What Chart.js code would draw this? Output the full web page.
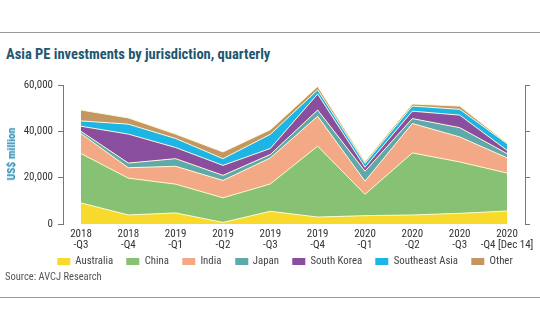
<!DOCTYPE html>
<html>
<head>
<meta charset="utf-8">
<script src="https://cdn.jsdelivr.net/npm/chart.js@4.4.1/dist/chart.umd.min.js"></script>
<style>
  html, body { margin: 0; padding: 0; background: #fff; }
  #wrap { position: relative; width: 540px; height: 334px; overflow: hidden;
          font-family: 'Liberation Sans Narrow', 'Roboto Condensed', 'DejaVu Sans Condensed', sans-serif; }
  #grafico { position: absolute; left: 0; top: 0; }
  .regla { position: absolute; left: 0; width: 540px; height: 1px; background: #9a9a9a; }
  #titulo { position: absolute; left: 6px; top: 46px; font-size: 14.5px; font-weight: bold; color: #1f5770; white-space: nowrap; }
  #fuente { position: absolute; left: 5px; top: 270px; font-size: 10.5px; color: #555; white-space: nowrap; }
  #tituloY { position: absolute; left: 11px; top: 154px; transform: translate(-50%, -50%) rotate(-90deg);
             font-size: 11.5px; font-weight: bold; color: #2a8db5; white-space: nowrap; }
  #leyenda { position: absolute; left: 285px; top: 254px; transform: translateX(-50%);
             display: flex; gap: 13.5px; font-size: 10.8px; color: #444; white-space: nowrap; line-height: 14px; }
  #leyenda .item { display: flex; align-items: center; gap: 5px; }
  #leyenda .caja { width: 13px; height: 7px; }
</style>
</head>
<body>
<div id="wrap">
  <div class="regla" style="top:32px"></div>
  <div id="titulo">Asia PE investments by jurisdiction, quarterly</div>
  <canvas id="grafico" width="540" height="334"></canvas>
  <div id="tituloY">US$ million</div>
  <div id="leyenda"></div>
  <div id="fuente">Source: AVCJ Research</div>
  <div class="regla" style="top:297px"></div>
</div>
<script>
// Trimestres (eje x)
const trimestres = [
    ['2018', '-Q3'], ['2018', '-Q4'], ['2019', '-Q1'], ['2019', '-Q2'], ['2019', '-Q3'],
    ['2019', '-Q4'], ['2020', '-Q1'], ['2020', '-Q2'], ['2020', '-Q3'], ['2020', '-Q4 [Dec 14]']
];

// Inversiones por jurisdicción (US$ millones)
const australia     = [9100, 3900, 4800,  700, 5500,  3000, 3600,  3900,  4600,  5600];
const china         = [21300, 15900, 12400, 10600, 11800, 30600, 9200, 26800, 22200, 16400];
const india         = [8600, 4500, 7700, 7500, 11200, 12900, 5700, 12700, 10800, 6600];
const japon         = [1000, 2000, 3300, 2200, 1500,  2700, 4300,  2100,  4000,  1800];
const coreaDelSur   = [2200, 12500, 4800, 4300, 2600,  6900, 1700,  3200,  5400,  1400];
const sudesteAsia   = [2300, 4300, 3900, 2900, 6100,  1800, 1700,  2200,  2500,  2900];
const otros         = [4700, 2700, 1900, 2900, 2000,  1500,  800,   900,  1400,   300];

const ticksY = [0, 20000, 40000, 60000];

const series = [
    { nombre: 'Australia', datos: australia, color: '#f8da2c' },
    { nombre: 'China', datos: china, color: '#87c173' },
    { nombre: 'India', datos: india, color: '#f3a886' },
    { nombre: 'Japan', datos: japon, color: '#5fa8ac' },
    { nombre: 'South Korea', datos: coreaDelSur, color: '#8a4e9e' },
    { nombre: 'Southeast Asia', datos: sudesteAsia, color: '#1db5e6' },
    { nombre: 'Other', datos: otros, color: '#c49762' }
];

const fuente = "'Liberation Sans Narrow', 'Roboto Condensed', 'DejaVu Sans Condensed', sans-serif";

// Leyenda en HTML, generada desde las series
const leyenda = document.getElementById('leyenda');
series.forEach(s => {
    const item = document.createElement('div');
    item.className = 'item';
    const caja = document.createElement('span');
    caja.className = 'caja';
    caja.style.background = s.color;
    const texto = document.createElement('span');
    texto.textContent = s.nombre;
    item.appendChild(caja);
    item.appendChild(texto);
    leyenda.appendChild(item);
});

const ejeComun = {
    min: 0,
    max: 60000,
    afterBuildTicks: (escala) => { escala.ticks = ticksY.map(v => ({ value: v })); },
    grid: { display: true, drawOnChartArea: false, drawTicks: true, tickLength: 5, color: '#777', lineWidth: 1 },
    border: { display: true, color: '#777', width: 1 }
};

const ctx = document.getElementById('grafico').getContext('2d');
new Chart(ctx, {
    type: 'line',
    data: {
        datasets: series.map((s, i) => ({
            label: s.nombre,
            data: s.datos.map((v, j) => ({ x: j, y: v })),
            backgroundColor: s.color,
            borderColor: 'rgba(255, 250, 215, 0.95)',
            borderWidth: 1,
            pointRadius: 0,
            tension: 0,
            fill: i === 0 ? 'origin' : '-1'
        }))
    },
    options: {
        responsive: false,
        animation: false,
        layout: { padding: { top: 85, left: 0, right: 0, bottom: 74 } },
        plugins: {
            title: { display: false },
            tooltip: { enabled: false },
            legend: { display: false }
        },
        scales: {
            x: {
                type: 'linear',
                min: -0.38,
                max: 9.38,
                afterBuildTicks: (escala) => { escala.ticks = trimestres.map((_, i) => ({ value: i })); },
                afterFit: (escala) => {
                    escala.height = 36;
                    escala.paddingLeft = 0;
                    escala.paddingRight = 0;
                },
                grid: { display: false, drawTicks: false },
                border: { display: false },
                ticks: {
                    padding: 4,
                    maxRotation: 0,
                    autoSkip: false,
                    color: '#333',
                    font: { family: fuente, size: 11, lineHeight: 1.05 },
                    callback: (v) => trimestres[v] || ''
                }
            },
            y: {
                ...ejeComun,
                position: 'left',
                stacked: true,
                afterFit: (escala) => { escala.width = 63; },
                ticks: {
                    padding: 5,
                    color: '#333',
                    font: { family: fuente, size: 11 },
                    callback: (v) => v.toLocaleString('en-US')
                }
            },
            yDerecha: {
                ...ejeComun,
                position: 'right',
                afterFit: (escala) => { escala.width = 15; },
                ticks: { display: false }
            }
        }
    }
});
</script>
</body>
</html>
